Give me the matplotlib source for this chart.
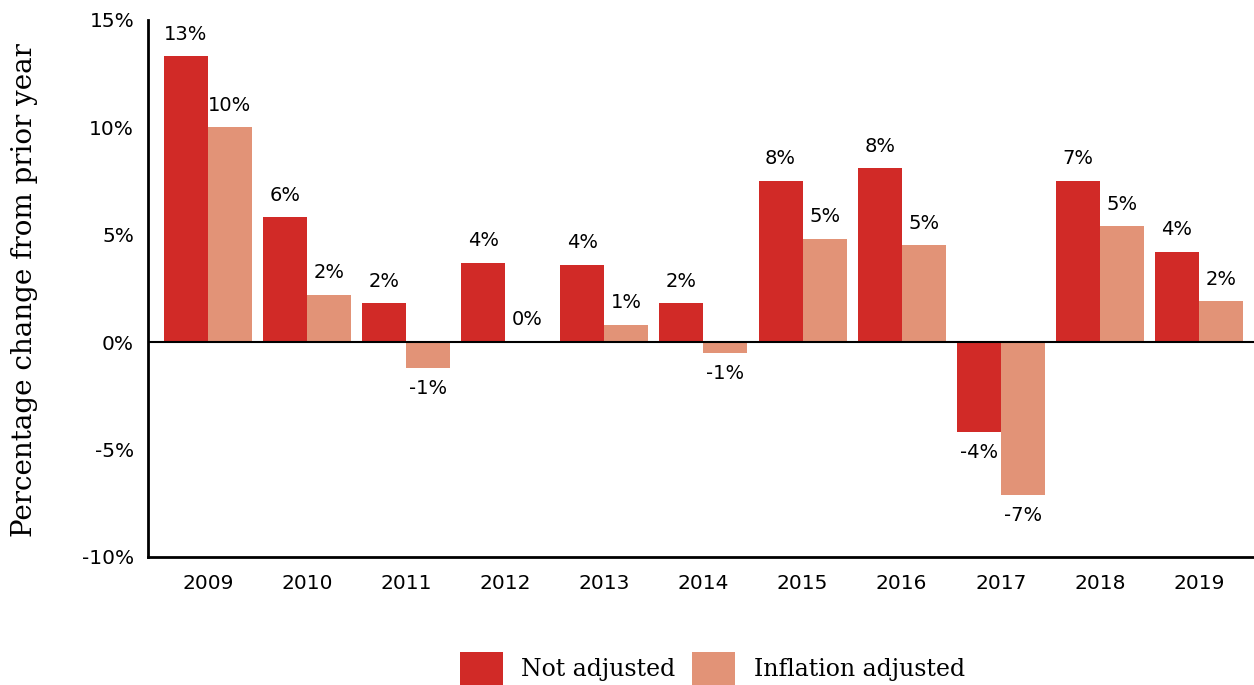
import numpy as np
import matplotlib.pyplot as plt

years = ['2009', '2010', '2011', '2012', '2013', '2014', '2015', '2016', '2017', '2018', '2019']
not_adjusted = [13.3, 5.8, 1.8, 3.7, 3.6, 1.8, 7.5, 8.1, -4.2, 7.5, 4.2]
inflation_adjusted = [10.0, 2.2, -1.2, 0.05, 0.8, -0.5, 4.8, 4.5, -7.1, 5.4, 1.9]
na_labels = ['13%', '6%', '2%', '4%', '4%', '2%', '8%', '8%', '-4%', '7%', '4%']
ia_labels = ['10%', '2%', '-1%', '0%', '1%', '-1%', '5%', '5%', '-7%', '5%', '2%']

c_na = '#d12a27'
c_ia = '#e29377'
sans = 'DejaVu Sans'
serif = 'DejaVu Serif'

fig = plt.figure(figsize=(12.54, 6.85), dpi=100)
ax = fig.add_axes([0.118, 0.187, 0.882, 0.784])

x = np.arange(len(years))
w = 0.444
b1 = ax.bar(x - w / 2, not_adjusted, w, color=c_na, label='Not adjusted')
b2 = ax.bar(x + w / 2, inflation_adjusted, w, color=c_ia, label='Inflation adjusted')

# value labels above positive bars, below negative ones
for bars, labs in ((b1, na_labels), (b2, ia_labels)):
    for r, lab in zip(bars, labs):
        h = r.get_height()
        xc = r.get_x() + r.get_width() / 2
        if h >= 0:
            ax.annotate(lab, (xc, h), xytext=(0, 9), textcoords='offset points',
                        ha='center', va='bottom', fontsize=14, family=sans)
        else:
            ax.annotate(lab, (xc, h), xytext=(0, -8), textcoords='offset points',
                        ha='center', va='top', fontsize=14, family=sans)

ax.axhline(0, color='black', lw=1.5)
ax.set_ylim(-10, 15)
ax.set_xlim(-0.605, len(years) - 1 + 0.555)
ax.set_yticks([-10, -5, 0, 5, 10, 15])
ax.set_yticklabels(['-10%', '-5%', '0%', '5%', '10%', '15%'])
ax.set_xticks(x)
ax.set_xticklabels(years)
ax.tick_params(length=0, labelsize=14.5)
ax.tick_params(axis='y', pad=10)
ax.tick_params(axis='x', pad=12)
for t in ax.get_xticklabels() + ax.get_yticklabels():
    t.set_family(sans)
ax.spines['top'].set_visible(False)
ax.spines['right'].set_visible(False)
ax.spines['left'].set_linewidth(2)
ax.spines['bottom'].set_linewidth(2)

fig.text(25 / 1254, 0.577, 'Percentage change from prior year', rotation=90,
         ha='center', va='center', family=serif, fontsize=20)

fig.legend(handles=[b1, b2], loc='center', bbox_to_anchor=(0.568, 0.024), ncol=2,
           frameon=False, prop={'family': serif, 'size': 17},
           handlelength=1.82, handleheight=1.82, columnspacing=0.72, handletextpad=0.78)

fig.savefig('out.png', dpi=100)
